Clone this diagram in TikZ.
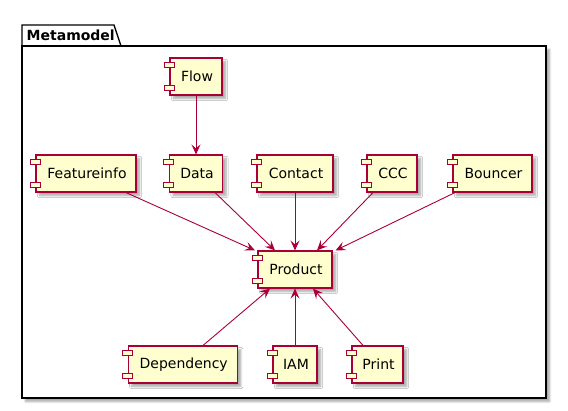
\documentclass[tikz,border=0pt]{standalone}
\usepackage{fontspec}
\setmainfont{DejaVu Sans}
\usetikzlibrary{arrows.meta,shadows.blur,calc}
\definecolor{compfill}{HTML}{FEFECE}
\definecolor{compline}{HTML}{A80036}
\tikzset{
  comp/.style={draw=compline, fill=compfill, line width=1.15pt, minimum height=37pt,
    inner sep=0pt, font=\fontsize{14}{16}\selectfont,
    blur shadow={shadow xshift=3.5pt, shadow yshift=-3.5pt, shadow blur steps=6, shadow opacity=35}},
  ear/.style={draw=compline, fill=compfill, line width=1pt},
  conn/.style={draw=compline, line width=0.9pt, -{Stealth[length=10pt,width=9pt,inset=4pt]}},
  pkg/.style={draw=black, line width=1.4pt, fill=white},
}
\begin{document}
\begin{tikzpicture}[x=1pt,y=-1pt]
\useasboundingbox (0,0) rectangle (568,410);
% package
\path[pkg, blur shadow={shadow xshift=3.5pt, shadow yshift=-3.5pt, shadow blur steps=6, shadow opacity=35}] (22,46) rectangle (546,398);
\path[pkg] (22,46) -- (22,25) -- (114,25) -- (121,46) -- cycle;
\draw[black, line width=1.4pt] (22,46) -- (546,46);
\node[anchor=base west, font=\fontsize{14}{16}\selectfont\bfseries, inner sep=0pt] (pkglabel) at (26.5,40) {Metamodel};
% components
\node[comp, minimum width=52pt] (flow) at (196,76.5) {\hspace*{2pt}Flow};
\node[comp, minimum width=100pt] (feat) at (86,173.5) {\hspace*{2pt}Featureinfo};
\node[comp, minimum width=53pt] (data) at (196,173.5) {\hspace*{2pt}Data};
\node[comp, minimum width=76pt] (contact) at (295,173.5) {\hspace*{2pt}Contact};
\node[comp, minimum width=50pt] (ccc) at (392,173.5) {\hspace*{2pt}CCC};
\node[comp, minimum width=79pt] (bouncer) at (492.5,173.5) {\hspace*{2pt}Bouncer};
\node[comp, minimum width=74pt] (prod) at (295,269.5) {\hspace*{2pt}Product};
\node[comp, minimum width=109pt] (dep) at (182.7,364.5) {\hspace*{2pt}Dependency};
\node[comp, minimum width=44pt] (iam) at (295,364.5) {\hspace*{2pt}IAM};
\node[comp, minimum width=51pt] (print) at (377.5,364.5) {\hspace*{2pt}Print};
% ears
\foreach \n in {flow,feat,data,contact,ccc,bouncer,prod,dep,iam,print}{
  \draw[ear] ([xshift=-5pt,yshift=-5pt]\n.north west) rectangle ++(10pt,-5pt);
  \draw[ear] ([xshift=-5pt,yshift=5pt]\n.south west) rectangle ++(10pt,5pt);
}
% connectors
\draw[conn] (flow.south) -- (data.north);
\draw[conn] ([xshift=40pt]feat.south) -- ([xshift=-40pt]prod.north);
\draw[conn] ([xshift=19pt]data.south) -- ([xshift=-20pt]prod.north);
\draw[conn] (contact.south) -- (prod.north);
\draw[conn] ([xshift=-19pt]ccc.south) -- ([xshift=22pt]prod.north);
\draw[conn] ([xshift=-37.5pt]bouncer.south) -- ([xshift=3pt]prod.north east);
\draw[conn] ([xshift=20.3pt]dep.north) -- ([xshift=-25pt]prod.south);
\draw[conn] (iam.north) -- (prod.south);
\draw[conn] ([xshift=-14.5pt]print.north) -- ([xshift=18pt]prod.south);
\end{tikzpicture}
\end{document}
